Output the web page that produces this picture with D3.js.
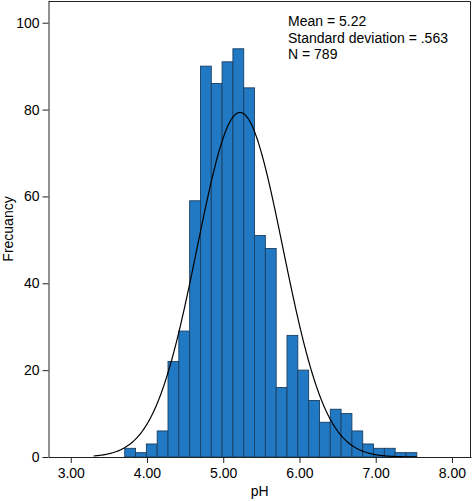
<!DOCTYPE html>
<html>
<head>
<meta charset="utf-8">
<script src="https://cdn.jsdelivr.net/npm/d3@7"></script>
<style>
  html, body { margin: 0; padding: 0; background: #fff; }
  svg { display: block; font-family: "Liberation Sans", Arial, sans-serif; }
</style>
</head>
<body>
<svg id="chart" width="473" height="501"></svg>
<script>
// ---- data ----
const binStart = 3.708;
const binWidth = 0.1419;
const counts = [2, 1, 3, 6, 22, 29, 59, 90, 86, 91, 94, 85, 51, 48, 16, 28, 20, 13, 8, 11, 10, 6, 3, 2, 2, 1, 1];
const xTicks = [3, 4, 5, 6, 7, 8];
const yTicks = [0, 20, 40, 60, 80, 100];
const stats = { mean: 5.22, sd: 0.563, n: 789 };
const statLines = ["Mean = 5.22", "Standard deviation = .563", "N = 789"];
const xLabel = "pH";
const yLabel = "Frecuancy";

// ---- layout ----
const svg = d3.select("#chart");
const pL = 48.5, pR = 471, pT = 1, pB = 457;
const fs = 14;

const x = d3.scaleLinear().domain([2.708, 8.25]).range([pL, pR]);
const y = d3.scaleLinear().domain([0, 105]).range([pB, pT]);

const bins = counts.map((c, i) => ({ x0: binStart + i * binWidth, x1: binStart + (i + 1) * binWidth, c }));

// frame (top & right)
svg.append("path")
  .attr("d", `M${pL},${pT + 0.5}H${pR - 0.5}V${pB}`)
  .attr("fill", "none").attr("stroke", "#222").attr("stroke-width", 1);

// bars
svg.append("g").selectAll("rect").data(bins).join("rect")
  .attr("x", d => x(d.x0))
  .attr("y", d => y(d.c))
  .attr("width", d => x(d.x1) - x(d.x0))
  .attr("height", d => y(0) - y(d.c))
  .attr("fill", "#2079c2")
  .attr("stroke", "#1b3f63")
  .attr("stroke-width", 0.9);

// normal curve
const pk = stats.n * binWidth / (stats.sd * Math.sqrt(2 * Math.PI));
const curvePts = d3.range(3.30, 7.5401, 0.01).map(v => [v, pk * Math.exp(-0.5 * Math.pow((v - stats.mean) / stats.sd, 2))]);
svg.append("path")
  .datum(curvePts)
  .attr("d", d3.line().x(d => x(d[0])).y(d => y(d[1])))
  .attr("fill", "none").attr("stroke", "#000").attr("stroke-width", 1.2);

// axes
const xAxis = d3.axisBottom(x).tickValues(xTicks).tickFormat(d3.format(".2f")).tickSize(6).tickSizeOuter(0);
const gx = svg.append("g").attr("transform", `translate(0,${pB})`).call(xAxis);
gx.select(".domain").attr("stroke", "#222");
gx.selectAll(".tick line").attr("stroke", "#222");
gx.selectAll(".tick text").attr("font-size", fs).attr("fill", "#000").attr("dy", "1.1em").attr("y", 6)
  .attr("font-family", "Liberation Sans, Arial, sans-serif");

const yAxis = d3.axisLeft(y).tickValues(yTicks).tickSize(6).tickSizeOuter(0);
const gy = svg.append("g").attr("transform", `translate(${pL},0)`).call(yAxis);
gy.select(".domain").attr("stroke", "#222");
gy.selectAll(".tick line").attr("stroke", "#222");
gy.selectAll(".tick text").attr("font-size", fs).attr("fill", "#000").attr("x", -9)
  .attr("font-family", "Liberation Sans, Arial, sans-serif");

// axis titles
svg.append("text").attr("x", (pL + pR) / 2).attr("y", 496)
  .attr("text-anchor", "middle").attr("font-size", fs).text(xLabel);
svg.append("text").attr("transform", `translate(13,${(pT + pB) / 2}) rotate(-90)`)
  .attr("text-anchor", "middle").attr("font-size", fs).text(yLabel);

// stats text
svg.append("g").selectAll("text").data(statLines).join("text")
  .attr("x", 288).attr("y", (d, i) => 26 + i * 16.5)
  .attr("font-size", fs).text(d => d);
</script>
</body>
</html>
